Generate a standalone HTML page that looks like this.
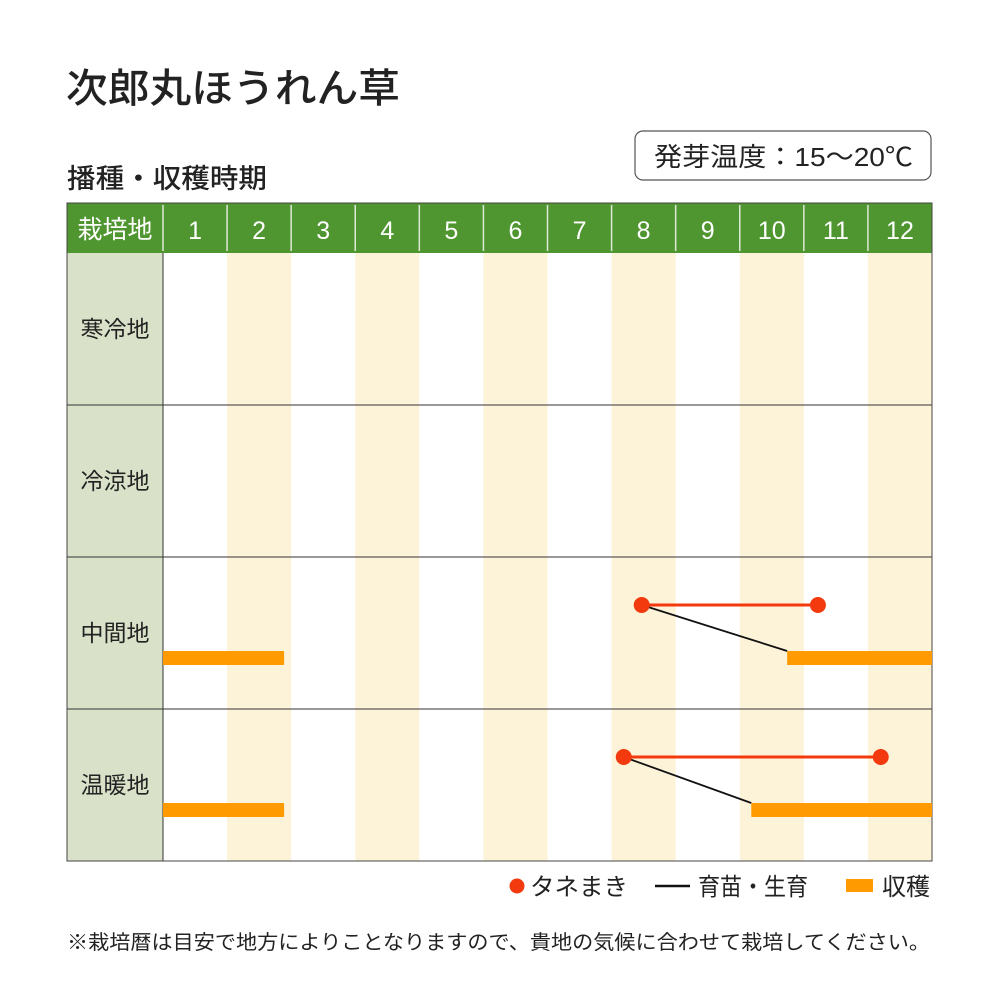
<!DOCTYPE html>
<html><head><meta charset="utf-8"><style>
body{margin:0;background:#fff;}
svg text{font-family:"Liberation Sans","Noto Sans CJK JP",sans-serif;}
</style></head><body>
<svg id="chart" width="1000" height="1000" viewBox="0 0 1000 1000" xmlns="http://www.w3.org/2000/svg">
<text x="66" y="102" font-size="40" fill="#222" textLength="334" lengthAdjust="spacingAndGlyphs" font-weight="500">次郎丸ほうれん草</text>
<text x="67" y="188" font-size="27" fill="#222" textLength="200" lengthAdjust="spacingAndGlyphs" font-weight="500">播種・収穫時期</text>
<rect x="635" y="131" width="296" height="49" rx="8" fill="#fff" stroke="#555" stroke-width="1.2"/>
<text x="654" y="166" font-size="26" textLength="259" lengthAdjust="spacingAndGlyphs" fill="#222">発芽温度：15～20℃</text>
<g id="grid"></g>
<g id="marks"></g>
<g>
<circle cx="517" cy="886" r="7.5" fill="#f23a0e"/>
<text x="530" y="895" font-size="24" fill="#222" textLength="98" lengthAdjust="spacingAndGlyphs">タネまき</text>
<line x1="655" y1="886" x2="690" y2="886" stroke="#111" stroke-width="2.5"/>
<text x="698" y="895" font-size="24" fill="#222" textLength="110" lengthAdjust="spacingAndGlyphs">育苗・生育</text>
<rect x="846" y="879" width="27" height="13" fill="#ff9a00"/>
<text x="882" y="895" font-size="24" fill="#222" textLength="48" lengthAdjust="spacingAndGlyphs">収穫</text>
</g>
<text x="67" y="949" font-size="20" fill="#222" textLength="863" lengthAdjust="spacingAndGlyphs">※栽培暦は目安で地方によりことなりますので、貴地の気候に合わせて栽培してください。</text>
</svg>
<script>
const months = ['1','2','3','4','5','6','7','8','9','10','11','12'];
const regions = ['寒冷地','冷涼地','中間地','温暖地'];
// values in months from Jan 1 (0 = start of Jan, 12 = end of Dec)
const sowStart = [null, null, 7.47, 7.19];
const sowEnd = [null, null, 10.22, 11.2];
const harvestAStart = [null, null, 0, 0];
const harvestAEnd = [null, null, 1.89, 1.89];
const harvestBStart = [null, null, 9.74, 9.18];
const harvestBEnd = [null, null, 12, 12];

const NS='http://www.w3.org/2000/svg';
const L=163, R=932, T=253, HT=203, RH=152, TL=67;
const CW=(R-L)/12;
const xm = m => L + m*CW;
const rowTop = i => T + i*RH;
function mk(tag, attrs, parent){const e=document.createElementNS(NS,tag);for(const k in attrs)e.setAttribute(k,attrs[k]);parent.appendChild(e);return e;}
const grid=document.getElementById('grid'), marks=document.getElementById('marks');

let e=mk('rect',{x:TL,y:HT,width:R-TL,height:T-HT,fill:'#4f9630'},grid);


e=mk('text',{x:115,y:238,'font-size':25,fill:'#fff','text-anchor':'middle'},grid);e.textContent='栽培地';


e=mk('rect',{x:TL,y:T,width:L-TL,height:4*RH,fill:'#d9e1c8'},grid);


months.forEach((m,i)=>{
  if(i%2===1){const s=mk('rect',{x:xm(i),y:T,width:CW,height:4*RH,fill:'#fdf3d9'},grid);
    
    }
  const t=mk('text',{x:xm(i)+CW/2,y:239,'font-size':25,fill:'#fff','text-anchor':'middle'},grid);t.textContent=m;
  
  
  const ln=mk('line',{x1:xm(i),y1:HT+2,x2:xm(i),y2:T-2,stroke:'#dfe9d6','stroke-width':1.5},grid);
  
  
});
regions.forEach((r,i)=>{
  const t=mk('text',{x:115,y:rowTop(i)+RH/2+8,'font-size':23,fill:'#222','text-anchor':'middle'},grid);t.textContent=r;
  
  
  if(i>0){const ln=mk('line',{x1:TL,y1:rowTop(i),x2:R,y2:rowTop(i),stroke:'#333','stroke-width':1},grid);
    
    }
});
e=mk('line',{x1:L,y1:T,x2:L,y2:T+4*RH,stroke:'#333','stroke-width':1},grid);


e=mk('rect',{x:TL,y:HT,width:R-TL,height:T+4*RH-HT,fill:'none',stroke:'#444','stroke-width':1},grid);



regions.forEach((r,i)=>{
  const dy=rowTop(i)+48, by=rowTop(i)+101;
  [[harvestAStart[i],harvestAEnd[i]],[harvestBStart[i],harvestBEnd[i]]].forEach(([a,b],k)=>{
    if(a===null)return;
    const h=mk('rect',{x:xm(a),y:by-7,width:xm(b)-xm(a),height:14,fill:'#ff9a00'},marks);
    
    
  });
  if(sowStart[i]===null)return;
  const g=mk('line',{x1:xm(sowStart[i]),y1:dy,x2:xm(harvestBStart[i]),y2:by-7,stroke:'#111','stroke-width':1.8},marks);
  
  
  const s=mk('line',{x1:xm(sowStart[i]),y1:dy,x2:xm(sowEnd[i]),y2:dy,stroke:'#f23a0e','stroke-width':3},marks);
  
  
  [sowStart[i],sowEnd[i]].forEach((v,k)=>{
    const c=mk('circle',{cx:xm(v),cy:dy,r:8,fill:'#f23a0e'},marks);
    
    
  });
});
</script>
</body></html>
